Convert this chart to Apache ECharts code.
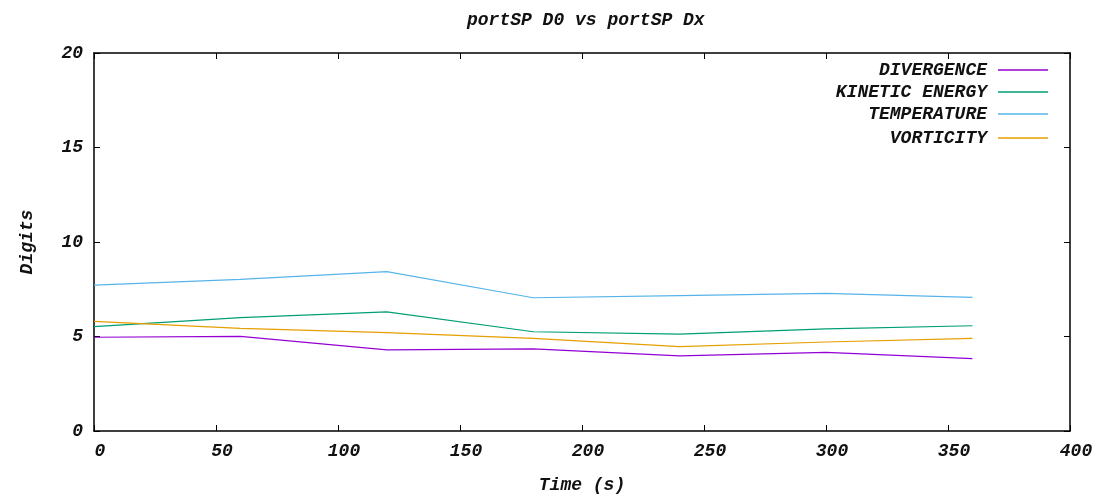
<!DOCTYPE html>
<html>
<head>
<meta charset="utf-8">
<script src="https://cdn.jsdelivr.net/npm/echarts@6/dist/echarts.min.js"></script>
<style>html,body{margin:0;padding:0;background:#fff;}#chart{width:1113px;height:498px;}</style>
</head>
<body>
<div id="chart"></div>
<script>
const times = [0, 60, 120, 180, 240, 300, 360];
const divergence = [4.96, 5.01, 4.29, 4.34, 3.97, 4.16, 3.83];
const kineticEnergy = [5.52, 6.00, 6.30, 5.25, 5.13, 5.40, 5.57];
const temperature = [7.72, 8.02, 8.43, 7.05, 7.16, 7.28, 7.07];
const vorticity = [5.80, 5.43, 5.20, 4.90, 4.46, 4.71, 4.90];
const seriesNames = ['DIVERGENCE', 'KINETIC ENERGY', 'TEMPERATURE', 'VORTICITY'];
const seriesValues = [divergence, kineticEnergy, temperature, vorticity];
const colors = ['#9400d3', '#009e73', '#56b4e9', '#e69f00'];

const FONT = 'Liberation Mono';
const txt = {fontFamily: FONT, fontWeight: 'bold', fontStyle: 'italic', fontSize: 18, color: '#111'};

const chart = echarts.init(document.getElementById('chart'));
const legendTops = [60, 82, 104, 128];
const axisLine = {show: true, onZero: false, lineStyle: {color: '#000', width: 1.5}};
const axisTick = {show: true, inside: true, length: 6, lineStyle: {color: '#000'}};
const option = {
  backgroundColor: '#fff',
  animation: false,
  title: {text: 'portSP D0 vs portSP Dx', left: 462, top: 6, textStyle: Object.assign({}, txt)},
  legend: seriesNames.map((n, i) => ({
    data: [n], orient: 'vertical', align: 'right', right: 65, top: legendTops[i],
    icon: 'rect', itemWidth: 50, itemHeight: 1.5, padding: 0,
    textStyle: Object.assign({}, txt, {padding: [0, 6, 0, 0], lineHeight: 20})
  })),
  grid: {left: 94, right: 43, top: 53, bottom: 67, outerBoundsMode: 'none', containLabel: false},
  xAxis: [
    {type: 'value', min: 0, max: 400, interval: 50, name: 'Time (s)', nameLocation: 'middle', nameGap: 45,
     nameTextStyle: Object.assign({}, txt),
     axisLine: axisLine, axisTick: axisTick,
     axisLabel: Object.assign({}, txt, {margin: 11, padding: [0, 0, 0, 12]}), splitLine: {show: false}},
    {type: 'value', position: 'top', min: 0, max: 400, interval: 50,
     axisLine: axisLine, axisTick: axisTick,
     axisLabel: {show: false}, splitLine: {show: false}}
  ],
  yAxis: [
    {type: 'value', min: 0, max: 20, interval: 5, name: 'Digits', nameLocation: 'middle', nameGap: 58, nameRotate: 90,
     nameTextStyle: Object.assign({}, txt),
     axisLine: axisLine, axisTick: axisTick,
     axisLabel: Object.assign({}, txt, {margin: 11}), splitLine: {show: false}},
    {type: 'value', position: 'right', min: 0, max: 20, interval: 5,
     axisLine: axisLine, axisTick: axisTick,
     axisLabel: {show: false}, splitLine: {show: false}}
  ],
  series: seriesNames.map((n, i) => ({
    name: n, type: 'line', xAxisIndex: 0, yAxisIndex: 0,
    data: times.map((t, j) => [t, seriesValues[i][j]]),
    showSymbol: false, symbol: 'none',
    itemStyle: {color: colors[i]},
    lineStyle: {color: colors[i], width: 1.2}
  }))
};
chart.setOption(option);
</script>
</body>
</html>
